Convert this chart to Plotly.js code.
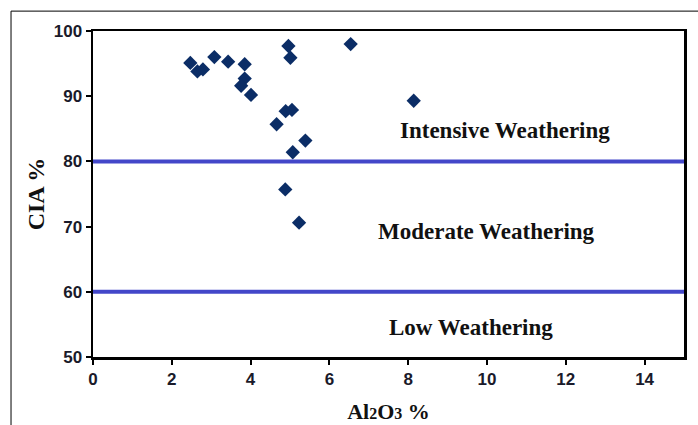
<!DOCTYPE html>
<html>
<head>
<meta charset="utf-8">
<script src="https://cdn.plot.ly/plotly-3.0.1.min.js"></script>
<style>html,body{margin:0;padding:0;background:#fff;}#chart{width:698px;height:425px;}</style>
</head>
<body>
<div id="chart"></div>
<script>
const al2o3 = [2.47, 2.65, 2.79, 3.08, 3.43, 3.85, 3.85, 3.76, 4.01, 4.96, 5.01, 4.89, 5.05, 4.66, 5.39, 5.07, 4.88, 5.23, 6.54, 8.14];
const cia   = [95.1, 93.8, 94.1, 96.0, 95.3, 94.9, 92.7, 91.6, 90.2, 97.7, 95.9, 87.7, 87.9, 85.7, 83.2, 81.4, 75.7, 70.6, 98.0, 89.3];
const boundaries = [80, 60];
const zoneLabels = ["Intensive Weathering", "Moderate Weathering", "Low Weathering"];
const zoneX = [10.45, 9.99, 9.59];
const zoneY = [84.8, 69.2, 54.6];
const xTicks = [0, 2, 4, 6, 8, 10, 12, 14];
const yTicks = [50, 60, 70, 80, 90, 100];

const tickFont = {family: "'Liberation Sans Narrow', 'Liberation Sans', Arial, sans-serif", size: 17, color: '#1a1a2a', weight: 'bold'};
const serif = "'Liberation Serif', 'Times New Roman', serif";

const traces = [{
  x: al2o3, y: cia, type: 'scatter', mode: 'markers',
  marker: {symbol: 'diamond', size: 11, color: '#0b2d66'},
  hoverinfo: 'x+y', showlegend: false
}];

const shapes = boundaries.map(v => ({
  type: 'line', xref: 'paper', yref: 'y', x0: 0, x1: 1, y0: v, y1: v,
  line: {color: '#4347c9', width: 4}
}));
// outer frame lines (left and top)
shapes.push({type: 'line', xref: 'paper', yref: 'paper', x0: -0.1387, x1: -0.1387, y0: 1.061, y1: -0.25, line: {color: '#000', width: 1}});
shapes.push({type: 'line', xref: 'paper', yref: 'paper', x0: -0.1387, x1: 1.05, y0: 1.061, y1: 1.061, line: {color: '#000', width: 1}});

const annotations = zoneLabels.map((t, i) => ({
  x: zoneX[i], y: zoneY[i], xref: 'x', yref: 'y', text: t, showarrow: false,
  font: {family: serif, size: 23, color: '#111', weight: 'bold'}
}));

const layout = {
  width: 698, height: 425,
  margin: {l: 93, r: 14, t: 31, b: 68},
  paper_bgcolor: '#fff', plot_bgcolor: '#fff',
  xaxis: {
    range: [0, 15], tickvals: xTicks, ticktext: xTicks.map(String),
    showgrid: false, zeroline: false,
    showline: true, linecolor: '#000', linewidth: 2.5, mirror: true,
    ticks: 'outside', ticklen: 5, tickwidth: 2, tickcolor: '#000',
    tickfont: tickFont,
    title: {text: 'Al<span style="font-size:16px">2</span>O<span style="font-size:16px">3</span> %', font: {family: serif, size: 22, color: '#111', weight: 'bold'}, standoff: 16}
  },
  yaxis: {
    range: [50, 100], tickvals: yTicks, ticktext: yTicks.map(String),
    showgrid: false, zeroline: false,
    showline: true, linecolor: '#000', linewidth: 2.5, mirror: true,
    ticks: 'outside', ticklen: 5, tickwidth: 2, tickcolor: '#000',
    tickfont: tickFont,
    title: {text: 'CIA %', font: {family: serif, size: 24, color: '#111', weight: 'bold'}, standoff: 3}
  },
  shapes: shapes,
  annotations: annotations
};

Plotly.newPlot('chart', traces, layout, {displayModeBar: false, staticPlot: true});
</script>
</body>
</html>
